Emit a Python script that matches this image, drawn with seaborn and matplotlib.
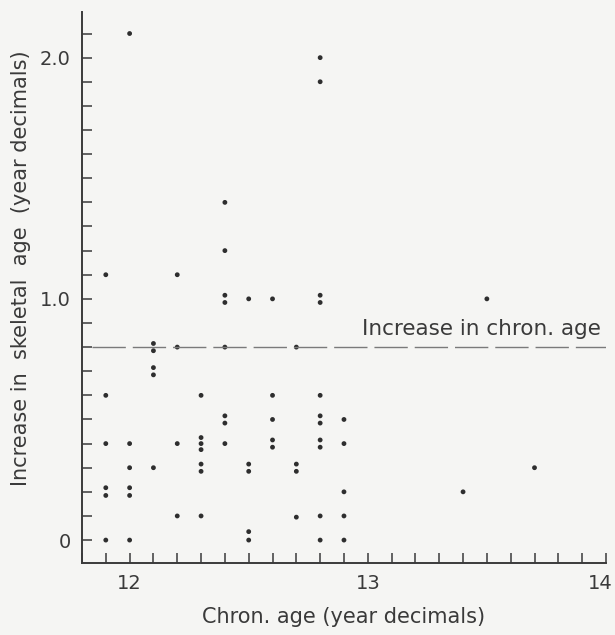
import matplotlib
matplotlib.use("Agg")
import matplotlib.pyplot as plt
import matplotlib.transforms as mtransforms
import seaborn as sns
import pandas as pd
from matplotlib.ticker import MultipleLocator, FixedLocator

# values (one entry per dot)
chron_age = (
    [11.9] * 6 + [12.0] * 6 + [12.1] * 5 + [12.2] * 4 + [12.3] * 7 +
    [12.4] * 8 + [12.5] * 5 + [12.6] * 5 + [12.7] * 4 + [12.8] * 11 +
    [12.9] * 5 + [13.4, 13.5, 13.7]
)
skeletal_increase = [
    1.10, 0.60, 0.40, 0.217, 0.185, 0.0,                 # 11.9
    2.10, 0.40, 0.30, 0.217, 0.185, 0.0,                 # 12.0
    0.815, 0.785, 0.715, 0.685, 0.30,                    # 12.1
    1.10, 0.80, 0.40, 0.10,                              # 12.2
    0.60, 0.425, 0.40, 0.375, 0.315, 0.285, 0.10,        # 12.3
    1.40, 1.20, 1.015, 0.985, 0.80, 0.515, 0.485, 0.40,  # 12.4
    1.00, 0.315, 0.285, 0.035, 0.0,                      # 12.5
    1.00, 0.60, 0.50, 0.415, 0.385,                      # 12.6
    0.80, 0.315, 0.285, 0.095,                           # 12.7
    2.00, 1.90, 1.015, 0.985, 0.60, 0.515, 0.485, 0.415, 0.385, 0.10, 0.0,  # 12.8
    0.50, 0.40, 0.20, 0.10, 0.0,                         # 12.9
    0.20, 1.00, 0.30,                                    # 13.4 - 13.7
]
chron_increase = 0.8  # reference line: increase in chronological age

x_ticks = [12, 13, 14]
x_ticklabels = ["12", "13", "14"]
y_ticks = [0, 1.0, 2.0]
y_ticklabels = ["0", "1.0", "2.0"]

df = pd.DataFrame({"chron": chron_age, "skel": skeletal_increase})

sns.set_style("ticks")
plt.rcParams["font.family"] = ["DejaVu Sans"]
ink = "#3a3a3a"
paper = "#f5f5f3"

fig = plt.figure(figsize=(6.15, 6.35), dpi=100, facecolor=paper)
ax = fig.add_axes([0.1333, 0.1134, 0.852, 0.868])
ax.set_facecolor(paper)

sns.scatterplot(data=df, x="chron", y="skel", ax=ax, s=12, color="#2e2e2e",
                edgecolor="none", legend=False)

ax.axhline(chron_increase, xmin=0.02, xmax=1.0, color="#7a7a7a", lw=1.0,
           linestyle=(0, (24, 5)))
ax.text(13.98, chron_increase + 0.035, "Increase in chron. age", ha="right",
        va="bottom", fontsize=15.5, color=ink)

ax.set_xlim(11.8, 14.0)
ax.set_ylim(-0.095, 2.19)
ax.xaxis.set_major_locator(FixedLocator(x_ticks))
ax.set_xticklabels(x_ticklabels)
ax.xaxis.set_minor_locator(MultipleLocator(0.1))
ax.yaxis.set_major_locator(FixedLocator(y_ticks))
ax.set_yticklabels(y_ticklabels)
ax.yaxis.set_minor_locator(MultipleLocator(0.1))

ax.tick_params(which="both", direction="in", color=ink, width=1.1,
               labelsize=14, labelcolor=ink)
ax.tick_params(which="major", length=7, pad=8)
ax.tick_params(which="minor", length=7)

# keep the last x label inside the page edge
last = ax.get_xticklabels()[-1]
last.set_transform(last.get_transform() +
                   mtransforms.ScaledTranslation(-6 / 100, 0, fig.dpi_scale_trans))

sns.despine(ax=ax)
for side in ("left", "bottom"):
    ax.spines[side].set_color(ink)
    ax.spines[side].set_linewidth(1.4)

ax.set_xlabel("Chron. age (year decimals)", fontsize=15, color=ink, labelpad=10)
ax.set_ylabel("Increase in  skeletal  age  (year decimals)", fontsize=15,
              color=ink)
ax.yaxis.set_label_coords(-0.097, 0.535)

fig.savefig("out.png", dpi=100, facecolor=fig.get_facecolor())
